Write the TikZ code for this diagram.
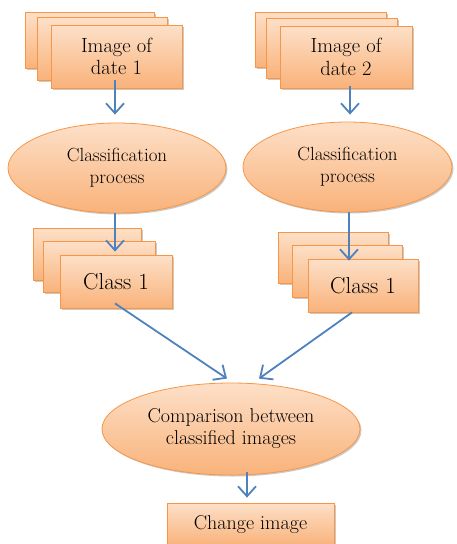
\documentclass[tikz,border=0pt]{standalone}
\usetikzlibrary{shapes.geometric,shadows,arrows.meta}
\definecolor{obord}{HTML}{F79646}
\definecolor{otop}{HTML}{FDE0C8}
\definecolor{obot}{HTML}{F9B27A}
\definecolor{ablue}{HTML}{4F81BD}
\tikzset{
  shd/.style={drop shadow={shadow xshift=1.5pt, shadow yshift=-1.5pt, opacity=0.35, fill=black!60}},
  box/.style={rectangle, draw=obord, line width=0.8pt, top color=otop, bottom color=obot, shd, inner sep=0pt, align=center},
  oval/.style={ellipse, draw=obord, line width=0.8pt, top color=otop, bottom color=obot, shd, inner sep=0pt, align=center},
  arr/.style={draw=ablue, line width=1.8pt, -{Straight Barb[length=10pt,width=18pt]}},
  txt/.style={font=\fontsize{20}{22}\selectfont},
  itxt/.style={font=\fontsize{20.5}{22.5}\selectfont},
  ctxt/.style={font=\fontsize{23}{25}\selectfont},
  ptxt/.style={font=\fontsize{19}{22}\selectfont},
}
\begin{document}
\begin{tikzpicture}[x=1pt,y=-1pt]
\useasboundingbox (0,0) rectangle (457,544);
\clip (0,0) rectangle (457,544);
% image stacks
\node[box, minimum width=129pt, minimum height=56pt] (bL) at (89.5,40) {};
\node[box, minimum width=130pt, minimum height=63pt] (mL) at (102,48.5) {};
\node[box, itxt, minimum width=131pt, minimum height=63pt] (fL) at (116.5,56.5) {Image of\\date 1};
\node[box, minimum width=131pt, minimum height=55pt] (bR) at (320.5,39.5) {};
\node[box, minimum width=131pt, minimum height=60pt] (mR) at (331.5,48) {};
\node[box, itxt, minimum width=132pt, minimum height=62pt] (fR) at (346,57) {Image of\\date 2};
% classification ellipses
\node[oval, ptxt, minimum width=218pt, minimum height=90pt] (clsL) at (117,168) {Classification\\process};
\node[oval, ptxt, minimum width=209pt, minimum height=90pt] (clsR) at (347.5,167) {Classification\\process};
% class stacks
\node[box, minimum width=108pt, minimum height=52pt] (cbL) at (87,254) {};
\node[box, minimum width=112pt, minimum height=51pt] (cmL) at (99,266.5) {};
\node[box, ctxt, minimum width=112pt, minimum height=53pt] (cL) at (116,281.5) {Class 1};
\node[box, minimum width=110pt, minimum height=51pt] (cbR) at (333,257.5) {};
\node[box, minimum width=110pt, minimum height=52pt] (cmR) at (347,271) {};
\node[box, ctxt, minimum width=110pt, minimum height=53pt] (cR) at (363,285.5) {Class 1};
% comparison
\node[oval, txt, minimum width=258pt, minimum height=92pt] (cmp) at (231,429) {Comparison between\\classified images};
\node[box, txt, minimum width=167pt, minimum height=43pt] (chg) at (250.5,524.5) {Change image};
% arrows
\draw[arr] ([xshift=-1.5pt,yshift=8pt]fL.south) -- ([xshift=-2pt,yshift=8pt]clsL.north);
\draw[arr] ([xshift=4pt,yshift=2pt]fR.south) -- ([xshift=2.5pt,yshift=7pt]clsR.north);
\draw[arr] ([xshift=-2pt]clsL.south) -- ([xshift=-1pt,yshift=3pt]cL.north);
\draw[arr] ([xshift=1.5pt]clsR.south) -- ([xshift=-14pt,yshift=-2pt]cR.north);
\draw[arr] ([xshift=-1pt,yshift=5pt]cL.south) -- ([xshift=-4pt,yshift=4pt]cmp.north);
\draw[arr] ([xshift=-11pt]cR.south) -- ([xshift=28pt,yshift=4pt]cmp.north);
\draw[arr] ([xshift=16pt,yshift=3pt]cmp.south) -- ([xshift=-3.5pt,yshift=5pt]chg.north);
\end{tikzpicture}
\end{document}
